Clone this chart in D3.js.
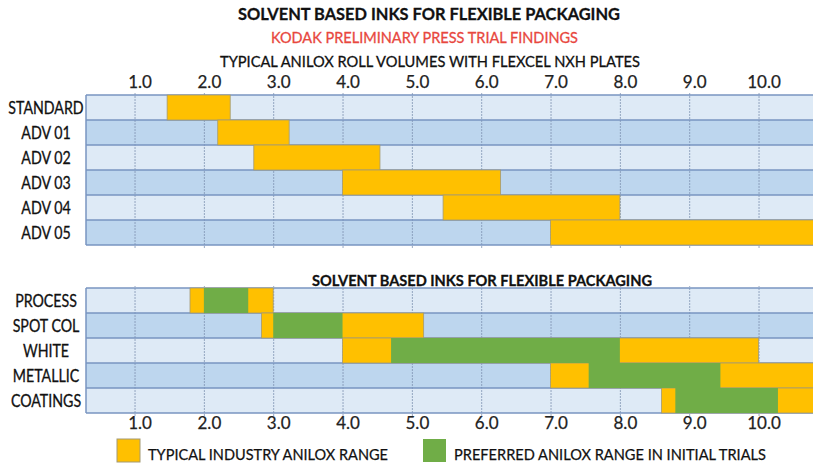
<!DOCTYPE html>
<html>
<head>
<meta charset="utf-8">
<script src="https://cdn.jsdelivr.net/npm/d3@7"></script>
<style>
  body { margin: 0; background: #fff; }
  text { font-family: Lato, "Open Sans", sans-serif; }
</style>
</head>
<body>
<div id="chart"></div>
<script>
// anilox volume ticks
let tickValues = [1, 2, 3, 4, 5, 6, 7, 8, 9, 10];

// top panel: typical anilox volumes per plate
let plateRows = ["STANDARD", "ADV 01", "ADV 02", "ADV 03", "ADV 04", "ADV 05"];
let plateStart = [1.47, 2.2, 2.72, 4.0, 5.45, 7.0];
let plateEnd = [2.38, 3.23, 4.54, 6.28, 8.0, 11];

// bottom panel: ink types
let inkRows = ["PROCESS", "SPOT COL", "WHITE", "METALLIC", "COATINGS"];
let typicalStart = [1.8, 2.83, 4.0, 7.0, 8.6];
let typicalEnd = [3.0, 5.17, 10.0, 11, 11];
let preferredStart = [2.0, 3.0, 4.7, 7.55, 8.8];
let preferredEnd = [2.64, 4.0, 8.0, 9.45, 10.28];

let w = 813;
let h = 465;
let left = 86;
let yellow = "#FFC000";
let green = "#70AD47";
let lightRow = "#DEEAF6";
let darkRow = "#BDD6EE";
let lineCol = "#7895C0";

let svg = d3
  .select("#chart")
  .append("svg")
  .attr("width", w)
  .attr("height", h);

let x = d3
  .scaleLinear()
  .domain([0.3, 10.8])
  .range([left, w + 1])
  .clamp(true);

// titles
function title(txt, tx, ty, size, weight, fill, len) {
  svg
    .append("text")
    .text(txt)
    .attr("x", tx)
    .attr("y", ty)
    .attr("font-size", size)
    .attr("font-weight", weight)
    .attr("fill", fill)
    .attr("stroke", fill)
    .attr("stroke-width", 0.3)
    .attr("textLength", len)
    .attr("lengthAdjust", "spacingAndGlyphs");
}
title("SOLVENT BASED INKS FOR FLEXIBLE PACKAGING", 238, 20, 17, "bold", "#111", 382);
title("KODAK PRELIMINARY PRESS TRIAL FINDINGS", 271, 43, 15, "normal", "#E8473E", 307);
title("TYPICAL ANILOX ROLL VOLUMES WITH FLEXCEL NXH PLATES", 220, 67, 16, "normal", "#111", 420);
title("SOLVENT BASED INKS FOR FLEXIBLE PACKAGING", 312, 286, 15, "bold", "#111", 340);

function drawPanel(rows, top, bottom, ranges) {
  let y = d3.scaleBand().domain(rows).range([top, bottom]);
  let g = svg.append("g");

  g.selectAll("rect.row")
    .data(rows)
    .enter()
    .append("rect")
    .attr("class", "row")
    .attr("x", left)
    .attr("y", d => y(d))
    .attr("width", w - left)
    .attr("height", y.bandwidth())
    .attr("fill", (d, i) => (i % 2 == 0 ? lightRow : darkRow));

  // vertical grid
  let grid = g
    .append("g")
    .attr("transform", "translate(0," + (bottom + 3) + ")")
    .call(
      d3.axisBottom(x)
        .tickValues(tickValues)
        .tickSize(-(bottom - top + 5))
        .tickFormat("")
    );
  grid.select(".domain").remove();
  grid.selectAll("line")
    .attr("stroke", "#7F93B3")
    .attr("stroke-width", 0.8)
    .attr("stroke-dasharray", "2,1");

  // row separators
  let edges = rows.map(d => y(d)).concat([bottom]);
  g.selectAll("line.sep")
    .data(edges)
    .enter()
    .append("line")
    .attr("x1", left)
    .attr("x2", w)
    .attr("y1", d => d)
    .attr("y2", d => d)
    .attr("stroke", lineCol)
    .attr("stroke-width", 1.5);
  g.append("line")
    .attr("x1", left)
    .attr("x2", left)
    .attr("y1", top)
    .attr("y2", bottom)
    .attr("stroke", lineCol)
    .attr("stroke-width", 1.5);

  ranges.forEach(function(r) {
    g.append("g")
      .selectAll("rect")
      .data(rows)
      .enter()
      .append("rect")
      .attr("x", (d, i) => x(r.start[i]))
      .attr("y", d => y(d))
      .attr("width", (d, i) => x(r.end[i]) - x(r.start[i]))
      .attr("height", y.bandwidth())
      .attr("fill", r.color)
      .attr("stroke", r.stroke)
      .attr("stroke-width", 0.8);
  });

  g.selectAll("text.lab")
    .data(rows)
    .enter()
    .append("text")
    .attr("class", "lab")
    .text(d => d)
    .attr("x", 46)
    .attr("y", d => y(d) + y.bandwidth() / 2 + 6)
    .attr("text-anchor", "middle")
    .attr("font-size", 16.5)
    .attr("fill", "#111")
    .attr("stroke", "#111")
    .attr("stroke-width", 0.3)
    .each(function() {
      // squeeze a bit, the original font is narrower
      let len = this.getComputedTextLength();
      d3.select(this)
        .attr("textLength", len * 0.86)
        .attr("lengthAdjust", "spacingAndGlyphs");
    });
}

drawPanel(plateRows, 95, 245, [
  { start: plateStart, end: plateEnd, color: yellow, stroke: "#A39A74" }
]);
drawPanel(inkRows, 288, 413, [
  { start: typicalStart, end: typicalEnd, color: yellow, stroke: "#A39A74" },
  { start: preferredStart, end: preferredEnd, color: green, stroke: "none" }
]);

// tick labels
function tickLabels(ty) {
  let a = svg
    .append("g")
    .attr("transform", "translate(0," + ty + ")")
    .call(
      d3.axisTop(x)
        .tickValues(tickValues)
        .tickSize(0)
        .tickPadding(0)
        .tickFormat(d3.format(".1f"))
    );
  a.select(".domain").remove();
  a.selectAll("text")
    .attr("dx", 5)
    .attr("dy", 0)
    .attr("font-family", "Lato, sans-serif")
    .attr("font-size", 17)
    .attr("fill", "#222")
    .attr("stroke", "#222")
    .attr("stroke-width", 0.25);
}
tickLabels(88);
tickLabels(429);

// legend
let legend = [
  { label: "TYPICAL INDUSTRY ANILOX RANGE", color: yellow, lx: 117, len: 240 },
  { label: "PREFERRED ANILOX RANGE IN INITIAL TRIALS", color: green, lx: 423, len: 312 }
];
let lg = svg.append("g").selectAll("g").data(legend).enter().append("g");
lg.append("rect")
  .attr("x", d => d.lx)
  .attr("y", 439)
  .attr("width", 23)
  .attr("height", 23)
  .attr("fill", d => d.color)
  .attr("stroke", d => (d.color == yellow ? "#A39A74" : "none"));
lg.append("text")
  .text(d => d.label)
  .attr("x", d => d.lx + 31)
  .attr("y", 459.5)
  .attr("font-size", 16)
  .attr("fill", "#111")
  .attr("stroke", "#111")
  .attr("stroke-width", 0.25)
  .attr("textLength", d => d.len)
  .attr("lengthAdjust", "spacingAndGlyphs");
</script>
</body>
</html>
